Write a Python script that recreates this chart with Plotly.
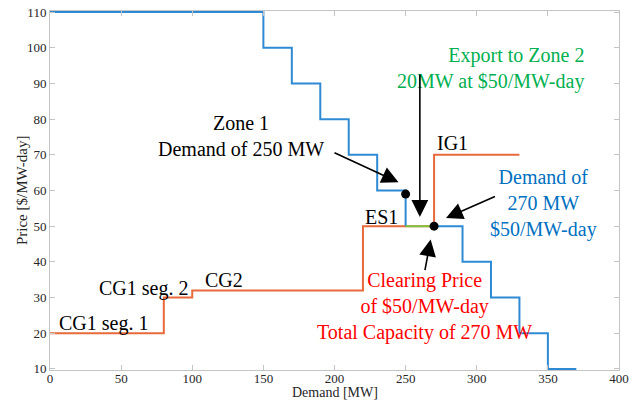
import plotly.graph_objects as go

# ---- Data ----
demand_hi_mw = [0, 150, 170, 190, 210, 230, 250]
demand_hi_price = [110, 100, 90, 80, 70, 60, 50]
demand_lo_mw = [270, 290, 310, 330, 350, 370]
demand_lo_price = [50, 40, 30, 20, 10, 10]
export_mw = [250, 270]
export_price = [50, 50]
supply_mw = [0, 80, 100, 220, 270, 330]
supply_price = [20, 30, 32, 50, 70, 70]
point_mw = [250, 270]
point_price = [59, 50]

x_ticks = [0, 50, 100, 150, 200, 250, 300, 350, 400]
y_ticks = [10, 20, 30, 40, 50, 60, 70, 80, 90, 100, 110]

BLUE = "#2F8AD4"
ORANGE = "#E8693B"
GREEN = "#80C341"
SERIF = "Liberation Serif"

fig = go.Figure()
fig.add_trace(go.Scatter(x=supply_mw, y=supply_price, mode="lines", line_shape="hv",
                         line=dict(color=ORANGE, width=2), hoverinfo="skip"))
fig.add_trace(go.Scatter(x=demand_hi_mw, y=demand_hi_price, mode="lines", line_shape="hv",
                         line=dict(color=BLUE, width=2), hoverinfo="skip"))
fig.add_trace(go.Scatter(x=demand_lo_mw, y=demand_lo_price, mode="lines", line_shape="hv",
                         line=dict(color=BLUE, width=2), hoverinfo="skip"))
fig.add_trace(go.Scatter(x=export_mw, y=export_price, mode="lines",
                         line=dict(color=GREEN, width=2), hoverinfo="skip"))
fig.add_trace(go.Scatter(x=point_mw, y=point_price, mode="markers",
                         marker=dict(color="black", size=9), cliponaxis=False, hoverinfo="skip"))

def text(x, y, s, color="black", xanchor="center", align="center"):
    fig.add_annotation(x=x, y=y, xref="x", yref="y", text=s, showarrow=False,
                       font=dict(family=SERIF, size=20, color=color),
                       xanchor=xanchor, yanchor="middle", align=align)

def arrow(x, y, ax, ay):
    fig.add_annotation(x=x, y=y, ax=ax, ay=ay, xref="x", yref="y", axref="x", ayref="y",
                       text="", showarrow=True, arrowhead=2, arrowsize=2.1,
                       arrowwidth=1.6, arrowcolor="black", font=dict(size=1),
                       borderpad=0, borderwidth=0)

text(134, 75.3, "Zone 1<br>Demand of 250 MW")
text(377, 94.3, "Export to Zone 2<br>20MW at $50/MW-day", color="#00B050",
     xanchor="right", align="right")
text(282.6, 73.4, "IG1")
text(346.6, 56.3, "Demand of<br>270 MW<br>$50/MW-day", color="#0070C0")
text(232.7, 52.6, "ES1")
text(263.3, 27.5, "Clearing Price<br>of $50/MW-day<br>Total Capacity of 270 MW", color="#FF0000")
text(37.3, 22.6, "CG1 seg. 1")
text(66.0, 32.4, "CG1 seg. 2")
text(122.0, 35.0, "CG2")

arrow(245, 62.3, 200, 70.6)
arrow(260, 52.6, 260, 92.5)
arrow(278.4, 52.3, 312.8, 58.3)
arrow(267.6, 46.3, 263.6, 37.7)

# axis titles
fig.add_annotation(x=0.5, y=-0.064, xref="paper", yref="paper", text="Demand [MW]",
                   showarrow=False, xanchor="center", yanchor="middle",
                   font=dict(family=SERIF, size=14, color="#262626"))
fig.add_annotation(x=-0.05, y=0.5, xref="paper", yref="paper", text="Price [$/MW-day]",
                   showarrow=False, xanchor="center", yanchor="middle", textangle=-90,
                   font=dict(family=SERIF, size=15, color="#262626"))

axis_common = dict(showgrid=False, zeroline=False, showline=True, linecolor="#C4C4C4",
                   linewidth=1, mirror="ticks", ticks="inside", ticklen=5, automargin=False,
                   tickcolor="#C4C4C4", tickfont=dict(family=SERIF, size=13, color="#262626"))

fig.update_layout(
    width=643, height=400,
    margin=dict(l=50, r=24, t=11, b=30),
    plot_bgcolor="white", paper_bgcolor="white",
    showlegend=False,
    xaxis=dict(range=[0, 400], tickvals=x_ticks, ticklabelstandoff=-4, **axis_common),
    yaxis=dict(range=[9.7, 110.3], tickvals=y_ticks, **axis_common),
)

fig.write_html("out.html", config={"displayModeBar": False},
               post_script="document.body.style.margin='0';")
